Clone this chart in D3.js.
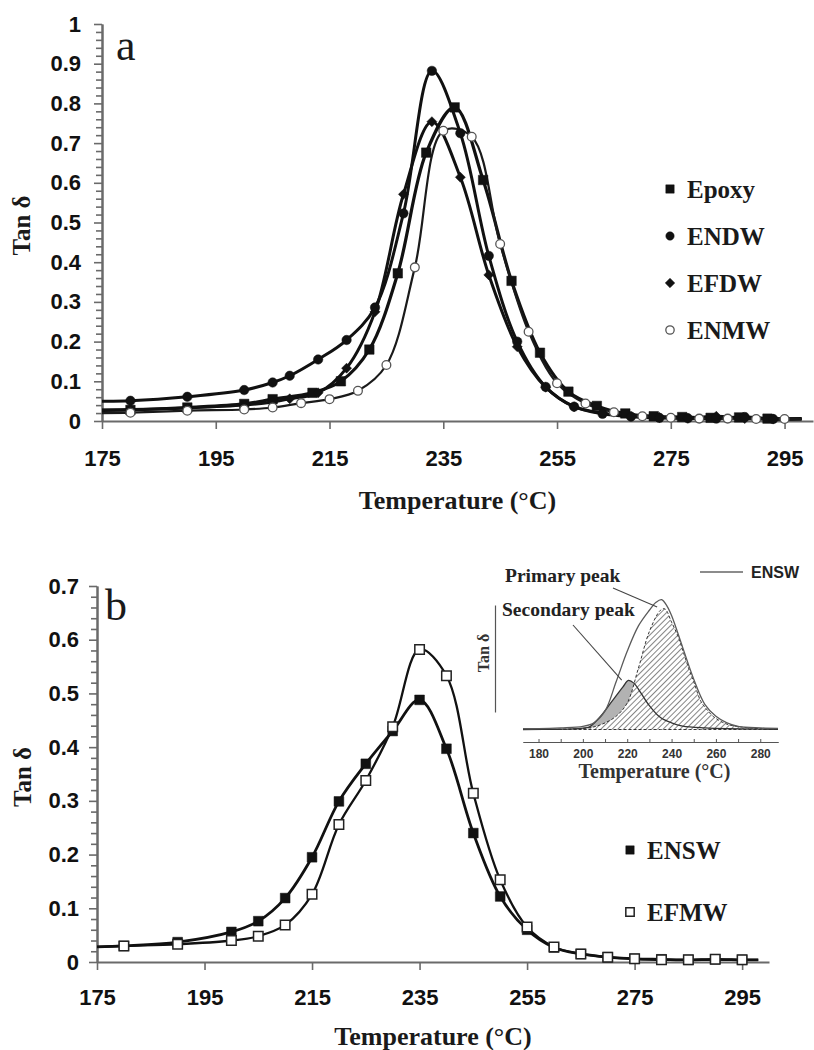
<!DOCTYPE html>
<html>
<head>
<meta charset="utf-8">
<script src="https://cdn.jsdelivr.net/npm/d3@7"></script>
<style>
  body { margin: 0; background: #fff; }
  svg { display: block; }
</style>
</head>
<body>
<svg id="fig" width="814" height="1050"></svg>
<script>
// ---------- tick labels ----------
const tempTicks = [175, 195, 215, 235, 255, 275, 295];
const tanTicksA = [0, 0.1, 0.2, 0.3, 0.4, 0.5, 0.6, 0.7, 0.8, 0.9, 1];
const tanTicksB = [0, 0.1, 0.2, 0.3, 0.4, 0.5, 0.6, 0.7];
const insetTicks = [180, 200, 220, 240, 260, 280];

// ---------- panel a : tan delta vs temperature ----------
const epoxyT = [175, 180, 190, 200, 205, 212, 217, 222, 227, 232, 237, 242, 247, 252, 257, 262, 267, 272, 277, 282, 287, 292, 298];
const epoxyV = [0.027, 0.028, 0.034, 0.043, 0.055, 0.071, 0.100, 0.180, 0.372, 0.676, 0.790, 0.607, 0.353, 0.172, 0.074, 0.038, 0.019, 0.012, 0.010, 0.008, 0.009, 0.006, 0.006];

const endwT = [175, 180, 190, 200, 205, 208, 213, 218, 223, 228, 233, 238, 243, 248, 253, 258, 263, 268, 273, 278, 283, 288, 293, 298];
const endwV = [0.050, 0.051, 0.061, 0.078, 0.097, 0.114, 0.155, 0.204, 0.286, 0.523, 0.882, 0.725, 0.416, 0.200, 0.086, 0.036, 0.018, 0.011, 0.008, 0.007, 0.006, 0.010, 0.005, 0.005];

const efdwT = [175, 180, 190, 200, 205, 208, 213, 218, 223, 228, 233, 238, 243, 248, 253, 258, 263, 268, 273, 278, 283, 288, 293, 298];
const efdwV = [0.028, 0.029, 0.033, 0.040, 0.048, 0.056, 0.071, 0.133, 0.275, 0.571, 0.754, 0.614, 0.368, 0.187, 0.085, 0.036, 0.020, 0.012, 0.009, 0.007, 0.012, 0.006, 0.005, 0.005];

const enmwT = [175, 180, 190, 200, 205, 210, 215, 220, 225, 230, 235, 240, 245, 250, 255, 260, 265, 270, 275, 280, 285, 290, 295, 298];
const enmwV = [0.020, 0.021, 0.026, 0.029, 0.034, 0.045, 0.055, 0.076, 0.141, 0.387, 0.731, 0.716, 0.446, 0.225, 0.095, 0.044, 0.022, 0.012, 0.008, 0.006, 0.006, 0.005, 0.005, 0.005];

// ---------- panel b ----------
const enswT = [175, 180, 190, 200, 205, 210, 215, 220, 225, 230, 235, 240, 245, 250, 255, 260, 265, 270, 275, 280, 285, 290, 295, 298];
const enswV = [0.028, 0.030, 0.037, 0.056, 0.076, 0.119, 0.195, 0.299, 0.369, 0.430, 0.488, 0.397, 0.240, 0.122, 0.060, 0.027, 0.015, 0.009, 0.006, 0.005, 0.004, 0.005, 0.004, 0.004];

const efmwT = [175, 180, 190, 200, 205, 210, 215, 220, 225, 230, 235, 240, 245, 250, 255, 260, 265, 270, 275, 280, 285, 290, 295, 298];
const efmwV = [0.028, 0.030, 0.033, 0.040, 0.048, 0.069, 0.126, 0.256, 0.338, 0.438, 0.582, 0.533, 0.314, 0.153, 0.065, 0.028, 0.015, 0.009, 0.006, 0.004, 0.004, 0.005, 0.004, 0.004];

// ---------- inset : peak deconvolution of ENSW ----------
const insetTotalT = [173, 180, 190, 200, 205, 210, 215, 220, 225, 230, 233, 235.5, 238, 240, 245, 250, 255, 260, 265, 270, 280, 288];
const insetTotalV = [0.003, 0.003, 0.006, 0.012, 0.025, 0.070, 0.180, 0.295, 0.390, 0.450, 0.480, 0.490, 0.465, 0.430, 0.310, 0.190, 0.095, 0.050, 0.025, 0.012, 0.006, 0.004];

const primaryT = [173, 190, 200, 205, 210, 215, 220, 225, 230, 235, 237, 240, 243, 245, 248, 250, 253, 255, 259, 265, 271, 280, 288];
const primaryV = [0.000, 0.001, 0.004, 0.010, 0.025, 0.050, 0.100, 0.230, 0.370, 0.450, 0.455, 0.405, 0.350, 0.300, 0.224, 0.180, 0.110, 0.085, 0.048, 0.020, 0.010, 0.003, 0.001];

const secondaryT = [173, 190, 195, 200, 203, 208, 213, 218, 220.5, 223, 226, 230, 235, 240, 245, 255, 265, 288];
const secondaryV = [0.000, 0.001, 0.002, 0.005, 0.010, 0.050, 0.105, 0.160, 0.185, 0.175, 0.140, 0.090, 0.045, 0.025, 0.013, 0.006, 0.003, 0.001];

const annoLabels = ["Primary peak", "Secondary peak"];
const annoT = [233.5, 217.5];
const annoV = [0.462, 0.186];

// ---------- helpers ----------
const zip = (T, V) => T.map((t, i) => ({ t, v: V[i] }));
const svg = d3.select("#fig");
const AXIS = "#6a6a6a";
const serif = "'Liberation Serif', 'Times New Roman', serif";
const sans = "'Liberation Sans', Arial, sans-serif";

function drawAxes(g, x, y, yTicks, yPad, xPad) {
  const [y0, y1] = y.domain();
  const minor = d3.range(y0, y1 + 1e-9, 0.02)
    .filter(v => !yTicks.some(t => Math.abs(t - v) < 1e-6));
  const left = x.range()[0], bottom = y.range()[0];

  g.append("g").attr("transform", `translate(${left},0)`)
    .call(d3.axisLeft(y).tickValues(minor).tickSize(6).tickSizeOuter(0).tickFormat(""));
  g.append("g").attr("transform", `translate(${left},0)`)
    .call(d3.axisLeft(y).tickValues(yTicks).tickSize(8).tickSizeOuter(0).tickPadding(yPad)
      .tickFormat(d => String(+d.toFixed(1))));
  g.append("g").attr("transform", `translate(0,${bottom})`)
    .call(d3.axisBottom(x).tickValues(tempTicks).tickSize(8).tickSizeOuter(0).tickPadding(xPad)
      .tickFormat(d3.format("d")));

  g.selectAll(".domain").attr("stroke", AXIS).attr("stroke-width", 2);
  g.selectAll(".tick line").attr("stroke", AXIS).attr("stroke-width", 1.6);
  g.selectAll(".tick text").attr("fill", "#111").attr("font-family", sans)
    .attr("font-weight", "bold").attr("font-size", 22);
}

function markerPath(shape, size) {
  const type = { square: d3.symbolSquare, circle: d3.symbolCircle, diamond: d3.symbolSquare }[shape];
  return d3.symbol().type(type).size(size)();
}

function drawSeries(g, x, y, s) {
  const pts = zip(s.T, s.V);
  const line = d3.line().x(d => x(d.t)).y(d => y(d.v)).curve(d3.curveCatmullRom.alpha(0.5));
  g.append("path").datum(pts).attr("d", line)
    .attr("fill", "none").attr("stroke", s.lineColor).attr("stroke-width", s.lineWidth)
    .attr("stroke-linejoin", "round");
  return pts.slice(1, -1);
}

function drawMarkers(g, x, y, s, pts) {
  g.selectAll(null).data(pts).join("path")
    .attr("d", markerPath(s.shape, s.size))
    .attr("transform", d => `translate(${x(d.t)},${y(d.v)})` + (s.shape === "diamond" ? " rotate(45)" : ""))
    .attr("fill", s.fill).attr("stroke", s.stroke).attr("stroke-width", s.strokeWidth);
}

function drawLegend(g, series, lx, ly0, dy) {
  series.forEach((s, i) => {
    const cy = ly0 + i * dy;
    g.append("path").attr("d", markerPath(s.shape, s.legendSize || s.size))
      .attr("transform", `translate(${lx},${cy})` + (s.shape === "diamond" ? " rotate(45)" : ""))
      .attr("fill", s.fill).attr("stroke", s.stroke).attr("stroke-width", s.strokeWidth);
    g.append("text").attr("x", lx + 17).attr("y", cy + 9)
      .attr("font-family", serif).attr("font-weight", "bold").attr("font-size", 25)
      .attr("fill", "#1a1a1a").text(s.name);
  });
}

function axisTitles(g, x, y, titleBaseline, tanX) {
  const xm = (x.range()[0] + x.range()[1]) / 2;
  g.append("text").attr("x", xm).attr("y", titleBaseline).attr("text-anchor", "middle")
    .attr("font-family", serif).attr("font-weight", "bold").attr("font-size", 26)
    .attr("fill", "#1a1a1a").text("Temperature (°C)");
  const ym = (y.range()[0] + y.range()[1]) / 2;
  g.append("text").attr("transform", `translate(${tanX},${ym + 3}) rotate(-90)`)
    .attr("text-anchor", "middle")
    .attr("font-family", serif).attr("font-weight", "bold").attr("font-size", 25)
    .attr("fill", "#1a1a1a").text("Tan δ");
}

// ================= panel a =================
const xA = d3.scaleLinear().domain([175, 300]).range([102, 813]);
const yA = d3.scaleLinear().domain([0, 1]).range([421, 24]);
const gA = svg.append("g");

const seriesA = [
  { name: "Epoxy", T: epoxyT, V: epoxyV, shape: "square", size: 90, fill: "#111", stroke: "#111", strokeWidth: 0.5, lineColor: "#111", lineWidth: 3.2, legendSize: 70 },
  { name: "ENDW", T: endwT, V: endwV, shape: "circle", size: 70, fill: "#111", stroke: "#111", strokeWidth: 0.5, lineColor: "#111", lineWidth: 3, legendSize: 55 },
  { name: "EFDW", T: efdwT, V: efdwV, shape: "diamond", size: 50, fill: "#111", stroke: "#111", strokeWidth: 0.5, lineColor: "#111", lineWidth: 3, legendSize: 45 },
  { name: "ENMW", T: enmwT, V: enmwV, shape: "circle", size: 60, fill: "#fff", stroke: "#555", strokeWidth: 1.3, lineColor: "#1a1a1a", lineWidth: 2.2, legendSize: 55 }
];

drawAxes(gA, xA, yA, tanTicksA, 13, 21);
const ptsA = seriesA.map(s => drawSeries(gA, xA, yA, s));
seriesA.forEach((s, i) => drawMarkers(gA, xA, yA, s, ptsA[i]));
drawLegend(gA, seriesA, 670, 189, 47);
axisTitles(gA, xA, yA, 509, 30);
gA.append("text").attr("x", 116).attr("y", 60).attr("font-family", serif)
  .attr("font-size", 44).attr("fill", "#1a1a1a").text("a");

// ================= panel b =================
const xB = d3.scaleLinear().domain([175, 300]).range([97, 769]);
const yB = d3.scaleLinear().domain([0, 0.7]).range([962, 586]);
const gB = svg.append("g");

const seriesB = [
  { name: "ENSW", T: enswT, V: enswV, shape: "square", size: 95, fill: "#111", stroke: "#111", strokeWidth: 0.5, lineColor: "#111", lineWidth: 2.8, legendSize: 70 },
  { name: "EFMW", T: efmwT, V: efmwV, shape: "square", size: 90, fill: "#fff", stroke: "#222", strokeWidth: 1.5, lineColor: "#111", lineWidth: 2.3, legendSize: 70 }
];

drawAxes(gB, xB, yB, tanTicksB, 10, 19);
const ptsB = seriesB.map(s => drawSeries(gB, xB, yB, s));
seriesB.forEach((s, i) => drawMarkers(gB, xB, yB, s, ptsB[i]));
drawLegend(gB, seriesB, 630, 850, 62);
axisTitles(gB, xB, yB, 1045, 31);
gB.append("text").attr("x", 105).attr("y", 620).attr("font-family", serif)
  .attr("font-size", 44).attr("fill", "#1a1a1a").text("b");

// ================= inset =================
const xI = d3.scaleLinear().domain([173, 288]).range([523, 778]);
const yI = d3.scaleLinear().domain([0, 0.5]).range([729.5, 597]);
const gI = svg.append("g");

const defs = svg.append("defs");
const pat = defs.append("pattern").attr("id", "hatch").attr("patternUnits", "userSpaceOnUse")
  .attr("width", 4).attr("height", 4).attr("patternTransform", "rotate(45)");
pat.append("rect").attr("width", 4).attr("height", 4).attr("fill", "#fff");
pat.append("line").attr("x1", 0).attr("y1", 0).attr("x2", 0).attr("y2", 4)
  .attr("stroke", "#333").attr("stroke-width", 1.2);

const curveI = d3.curveCatmullRom.alpha(0.5);
const areaI = d3.area().x(d => xI(d.t)).y0(yI(0)).y1(d => yI(d.v)).curve(curveI);
const lineI = d3.line().x(d => xI(d.t)).y(d => yI(d.v)).curve(curveI);

const secPts = zip(secondaryT, secondaryV);
const priPts = zip(primaryT, primaryV);
const totPts = zip(insetTotalT, insetTotalV);

gI.append("path").datum(secPts).attr("d", areaI).attr("fill", "#b2b2b2");
gI.append("path").datum(priPts).attr("d", areaI).attr("fill", "url(#hatch)");
gI.append("path").datum(priPts).attr("d", areaI).attr("fill", "none")
  .attr("stroke", "#333").attr("stroke-width", 1).attr("stroke-dasharray", "3,2");
gI.append("path").datum(secPts).attr("d", lineI).attr("fill", "none")
  .attr("stroke", "#333").attr("stroke-width", 1.3);
gI.append("path").datum(totPts).attr("d", lineI).attr("fill", "none")
  .attr("stroke", "#5a5a5a").attr("stroke-width", 1.3);

// inset x axis
const gIx = gI.append("g").attr("transform", "translate(0,742)");
gIx.call(d3.axisBottom(xI).tickValues(insetTicks).tickSize(0).tickSizeOuter(0).tickPadding(7)
  .tickFormat(d3.format("d")));
gIx.append("g").call(d3.axisBottom(xI).tickValues(d3.range(180, 288, 10)).tickSize(-3)
  .tickSizeOuter(0).tickFormat(""));
gIx.selectAll(".domain").attr("stroke", "#555").attr("stroke-width", 1.2);
gIx.selectAll(".tick line").attr("stroke", "#555");
gIx.selectAll(".tick text").attr("fill", "#333").attr("font-family", sans)
  .attr("font-weight", "bold").attr("font-size", 12);

// inset y axis (no ticks)
const yIax = d3.scaleLinear().domain([0, 1]).range([712, 605]);
const gIy = gI.append("g").attr("transform", "translate(495,0)");
gIy.call(d3.axisLeft(yIax).tickValues([]).tickSizeOuter(0));
gIy.selectAll(".domain").attr("stroke", "#555").attr("stroke-width", 1.2);

gI.append("text").attr("transform", "translate(489,653) rotate(-90)").attr("text-anchor", "middle")
  .attr("font-family", serif).attr("font-weight", "bold").attr("font-size", 16)
  .attr("fill", "#333").text("Tan δ");
gI.append("text").attr("x", xI.range()[0] + (xI.range()[1] - xI.range()[0]) / 2 + 4).attr("y", 778)
  .attr("text-anchor", "middle").attr("font-family", serif).attr("font-weight", "bold")
  .attr("font-size", 20).attr("fill", "#333").text("Temperature (°C)");

// annotations with pointer lines
const annoText = [{ x: 505, y: 582 }, { x: 502, y: 616 }];
annoLabels.forEach((lab, i) => {
  gI.append("text").attr("x", annoText[i].x).attr("y", annoText[i].y)
    .attr("font-family", serif).attr("font-weight", "bold").attr("font-size", 19.5)
    .attr("fill", "#222").text(lab);
});
gI.append("line").attr("x1", 613).attr("y1", 588).attr("x2", xI(annoT[0])).attr("y2", yI(annoV[0]))
  .attr("stroke", "#444").attr("stroke-width", 1.1);
gI.append("line").attr("x1", 573).attr("y1", 625).attr("x2", xI(annoT[1])).attr("y2", yI(annoV[1]))
  .attr("stroke", "#444").attr("stroke-width", 1.1);

// inset legend
gI.append("line").attr("x1", 700).attr("x2", 743).attr("y1", 572).attr("y2", 572)
  .attr("stroke", "#666").attr("stroke-width", 1.5);
gI.append("text").attr("x", 751).attr("y", 578).attr("font-family", sans).attr("font-weight", "bold")
  .attr("font-size", 16).attr("fill", "#222").text("ENSW");
</script>
</body>
</html>
